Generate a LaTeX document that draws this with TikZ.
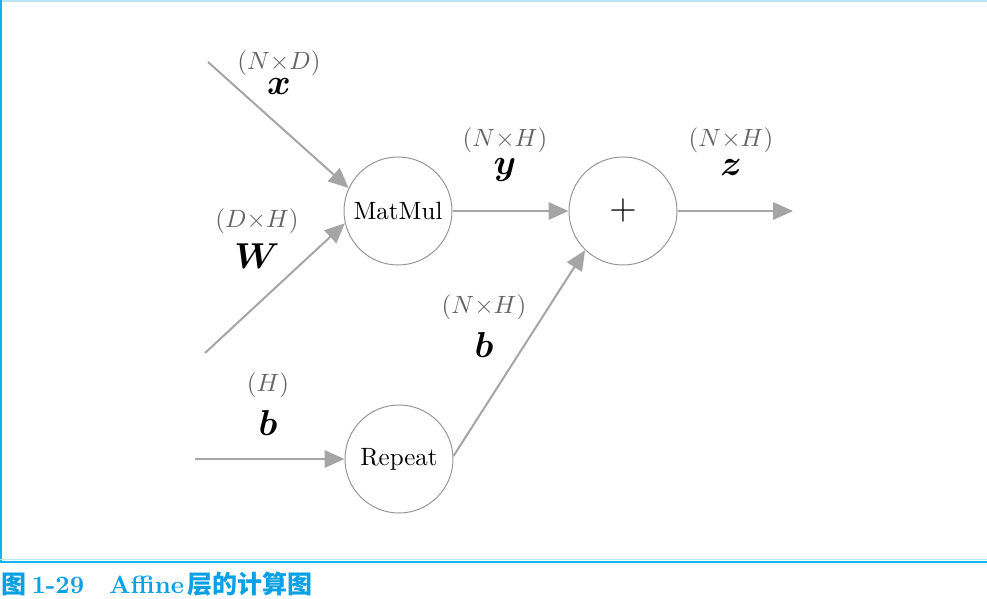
\documentclass[tikz,border=0pt]{standalone}
\usepackage{amsmath}
\usepackage{bm}
\usepackage{fontspec}
\newfontfamily\cjk{Noto Sans CJK SC}
\usetikzlibrary{arrows.meta}
\definecolor{framecyan}{RGB}{20,178,235}
\definecolor{framelight}{RGB}{185,230,248}
\definecolor{capblue}{RGB}{10,160,228}
\definecolor{arrowgray}{RGB}{165,165,165}
\definecolor{circlegray}{RGB}{150,150,150}
\definecolor{dimgray}{RGB}{100,100,100}
\tikzset{
  op/.style={circle, draw=circlegray, line width=0.4pt, minimum size=43.2pt, inner sep=0pt, font=\fontsize{10}{12}\selectfont},
  conn/.style={draw=arrowgray, line width=0.8pt, -{Triangle[length=8pt,width=7pt]}},
  dimlabel/.style={text=dimgray, inner sep=0pt, font=\fontsize{10}{12}\selectfont},
  varlabel/.style={text=black, inner sep=0pt, font=\fontsize{15.5}{18}\selectfont},
  caption/.style={text=capblue, inner sep=0pt, anchor=west, font=\fontsize{10}{12}\selectfont\bfseries}
}
\begin{document}
\begin{tikzpicture}[x=0.4pt, y=-0.4pt]
\useasboundingbox (0,0) rectangle (987,599);
% frame
\draw[framelight, line width=0.6pt] (0,0.8) -- (987,0.8);
\draw[framecyan, line width=0.6pt] (0.8,0) -- (0.8,562);
\draw[framelight, line width=0.5pt] (0,559.5) -- (987,559.5);
\draw[framecyan, line width=0.7pt] (0,562) -- (987,562);
% nodes
\node[op] (mm) at (398,211) {MatMul};
\node[op, font=\fontsize{15.5}{18}\selectfont] (plus) at (623,211) {$+$};
\node[op] (rep) at (399,459) {Repeat};
% free ends
\coordinate (xs) at (208,62);
\coordinate (ws) at (205,353);
\coordinate (bs) at (195,459);
\coordinate (zs) at (793,211);
% connectors
\draw[conn] (xs) -- (mm.155);
\draw[conn] (ws) -- (mm.193);
\draw[conn] (mm.east) -- (plus.west);
\draw[conn] (plus.east) -- (zs);
\draw[conn] (bs) -- (rep.west);
\draw[conn] (rep.3) -- (plus.226);
% labels
\node[dimlabel] (dx) at (279,63) {$(N{\times}D)$};
\node[varlabel] (lx) at (279,87) {$\bm{x}$};
\node[dimlabel] (dw) at (257,221) {$(D{\times}H)$};
\node[varlabel] (lw) at (257,256) {$\bm{W}$};
\node[dimlabel] (dy) at (505,140) {$(N{\times}H)$};
\node[varlabel] (ly) at (505,170) {$\bm{y}$};
\node[dimlabel] (dz) at (731,140) {$(N{\times}H)$};
\node[varlabel] (lz) at (731,168) {$\bm{z}$};
\node[dimlabel] (db2) at (484,307) {$(N{\times}H)$};
\node[varlabel] (lb2) at (484,345) {$\bm{b}$};
\node[dimlabel] (db) at (268,385) {$(H)$};
\node[varlabel] (lb) at (268,423) {$\bm{b}$};
% caption
\node[caption] (cap) at (1,584) {{\cjk\bfseries 图}\kern2pt 1-29\quad Affine\kern1.5pt{\cjk\bfseries 层的计算图}};
\end{tikzpicture}
\end{document}
